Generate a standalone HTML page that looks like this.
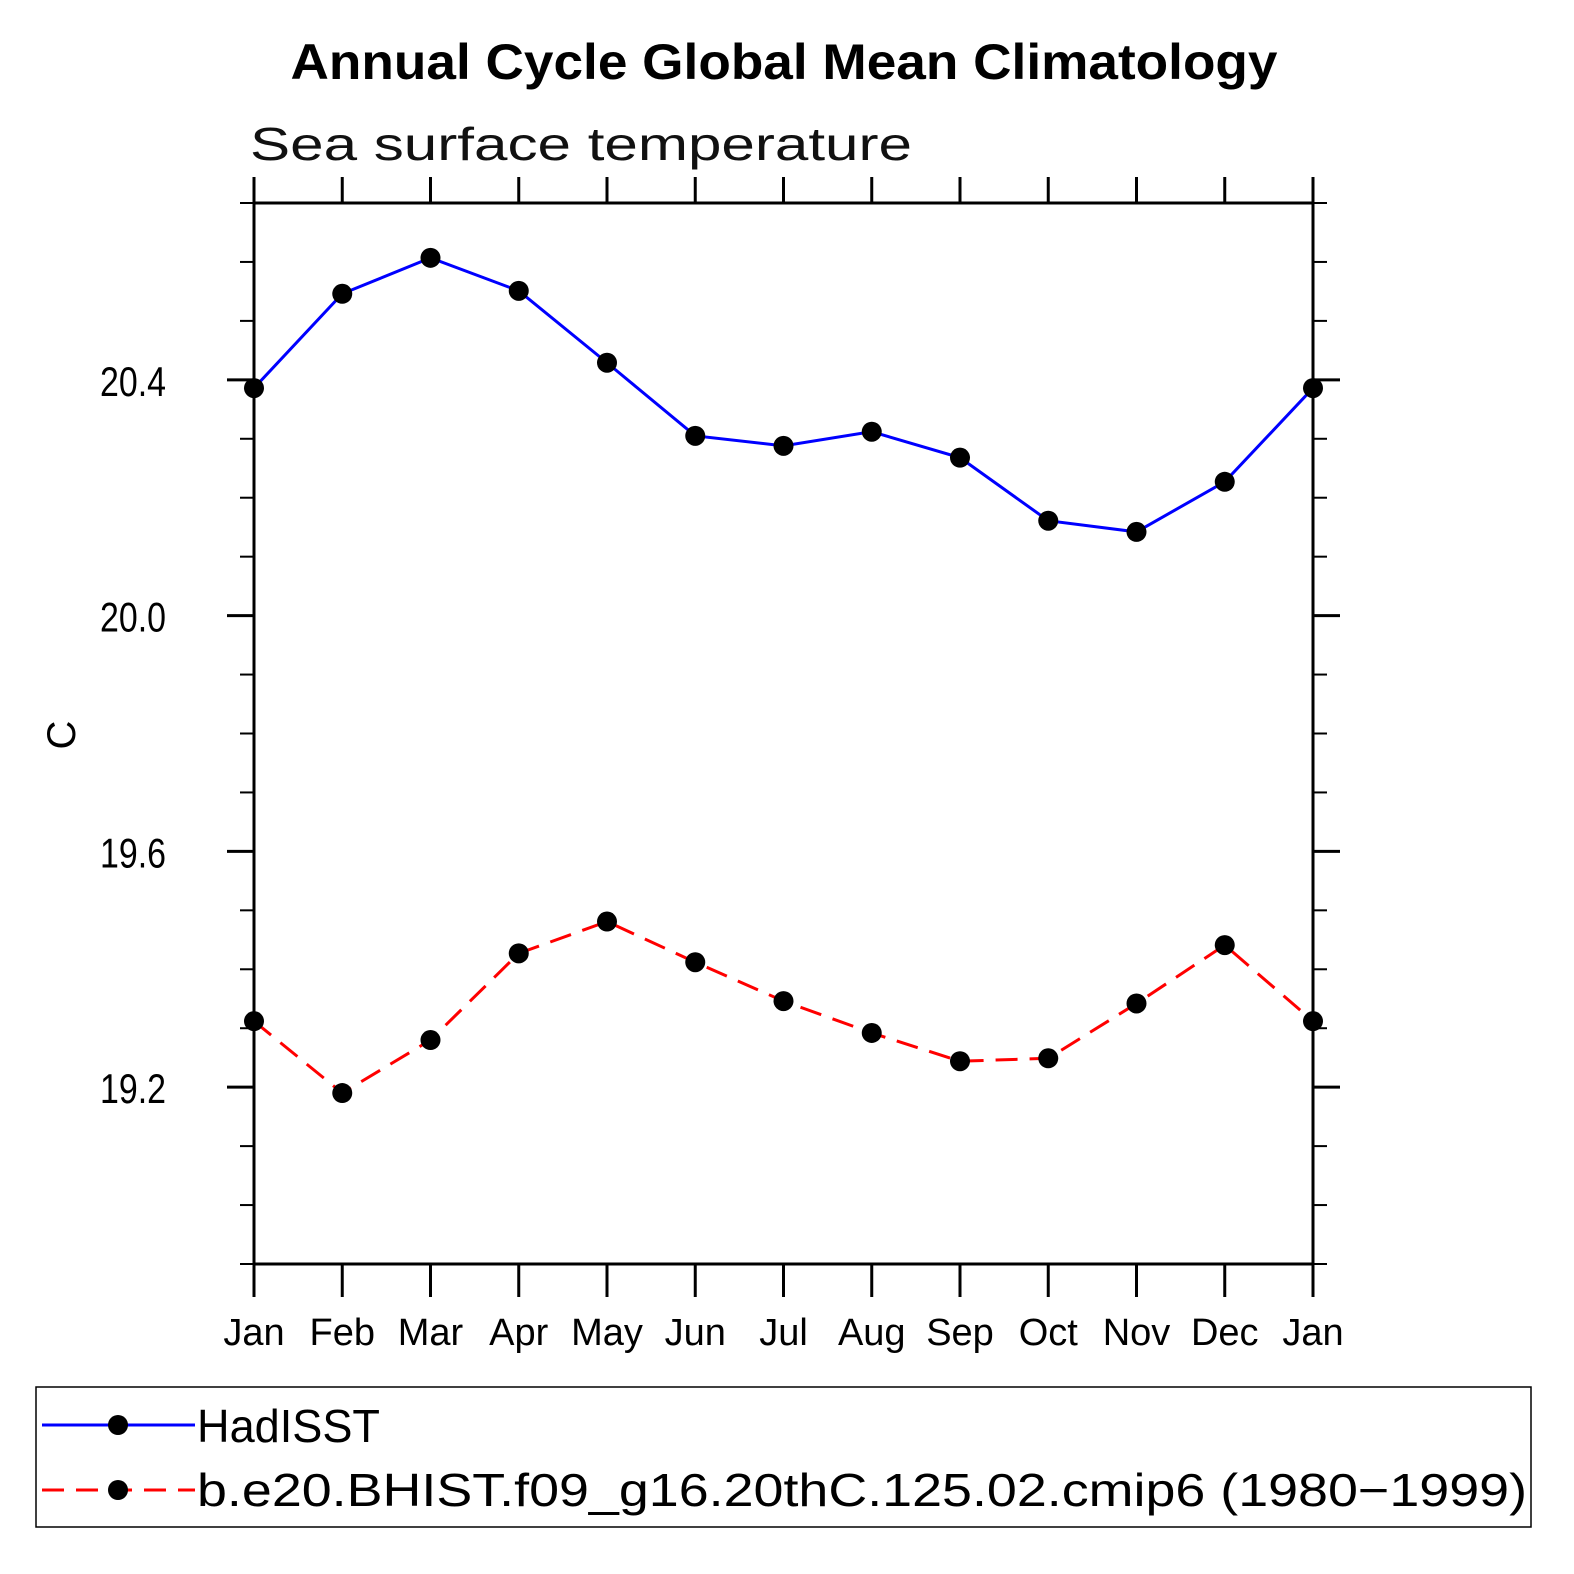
<!DOCTYPE html>
<html><head><meta charset="utf-8"><style>body{margin:0;background:#fff}svg{display:block}text{font-family:"Liberation Sans",sans-serif}</style></head>
<body>
<svg id="chart" width="1574" height="1574" xmlns="http://www.w3.org/2000/svg">
<text x="784" y="79" text-anchor="middle" font-size="50" font-weight="bold" textLength="987" lengthAdjust="spacingAndGlyphs">Annual Cycle Global Mean Climatology</text>
<text x="250" y="160" font-size="46" textLength="662" lengthAdjust="spacingAndGlyphs" fill="#111">Sea surface temperature</text>
<text transform="translate(75,735) rotate(-90)" text-anchor="middle" font-size="40">C</text>
<g id="axes"></g>
<g id="series"></g>
<rect x="36" y="1387" width="1495" height="140" fill="none" stroke="#000" stroke-width="1.5"/>
<g>
<line x1="42" y1="1425" x2="195" y2="1425" stroke="#0000ff" stroke-width="3"/>
<circle cx="118" cy="1425" r="10"/>
<text x="197" y="1442" font-size="46" textLength="183" lengthAdjust="spacingAndGlyphs">HadISST</text>
</g>
<g>
<line x1="42" y1="1490" x2="195" y2="1490" stroke="#ff0000" stroke-width="3" stroke-dasharray="22,12"/>
<circle cx="118" cy="1490" r="10"/>
<text x="197" y="1506" font-size="46" textLength="1330" lengthAdjust="spacingAndGlyphs">b.e20.BHIST.f09_g16.20thC.125.02.cmip6 (1980−1999)</text>
</g>
</svg>
<script>
const months = ["Jan","Feb","Mar","Apr","May","Jun","Jul","Aug","Sep","Oct","Nov","Dec","Jan"];
const hadisst = [20.386,20.546,20.607,20.551,20.429,20.305,20.288,20.312,20.268,20.161,20.142,20.227,20.386];
const model = [19.312,19.190,19.280,19.427,19.481,19.412,19.346,19.292,19.244,19.249,19.342,19.441,19.312];
const yTicks = [19.2,19.6,20.0,20.4];
const yTickLabels = ["19.2","19.6","20.0","20.4"];
const yMin = 18.9, yMax = 20.7;
const L=254,R=1313,T=203,B=1264;
const NS="http://www.w3.org/2000/svg";
function xs(i){return L+(R-L)*i/(months.length-1);}
function ys(v){return B-(v-yMin)/(yMax-yMin)*(B-T);}
function mk(tag,attrs,parent){const e=document.createElementNS(NS,tag);for(const k in attrs)e.setAttribute(k,attrs[k]);parent.appendChild(e);return e;}
const ax=document.getElementById('axes');
const frame=mk('rect',{x:L,y:T,width:R-L,height:B-T,fill:'none',stroke:'#000','stroke-width':3},ax);


months.forEach((m,i)=>{
  const x=xs(i);
  const t1=mk('line',{x1:x,y1:T-26,x2:x,y2:T,stroke:'#000','stroke-width':3},ax);
  
  
  const t2=mk('line',{x1:x,y1:B,x2:x,y2:B+33,stroke:'#000','stroke-width':3},ax);
  
  
  const tx=mk('text',{x:x,y:1345,'text-anchor':'middle','font-size':38},ax);
  tx.textContent=m;
  
  
});
for(let k=0;k<=18;k++){
  const v=yMin+k*0.1, y=ys(v);
  const major=yTicks.some(t=>Math.abs(t-v)<1e-6);
  const len=major?27:14;
  const a=mk('line',{x1:L-len,y1:y,x2:L,y2:y,stroke:'#000','stroke-width':major?3:2},ax);
  
  
  const b=mk('line',{x1:R,y1:y,x2:R+len,y2:y,stroke:'#000','stroke-width':major?3:2},ax);
  
  
}
yTicks.forEach((t,i)=>{
  const tx=mk('text',{x:100,y:ys(t)+16,'font-size':42,textLength:66,lengthAdjust:'spacingAndGlyphs'},ax);
  tx.textContent=yTickLabels[i];
  
  
});
const sg=document.getElementById('series');
function drawSeries(vals,color,dash,name){
  const pts=vals.map((v,i)=>xs(i)+','+ys(v)).join(' ');
  const pl=mk('polyline',{points:pts,fill:'none',stroke:color,'stroke-width':3},sg);
  if(dash)pl.setAttribute('stroke-dasharray',dash);
  
  
  vals.forEach((v,i)=>{
    const c=mk('circle',{cx:xs(i),cy:ys(v),r:10,fill:'#000'},sg);
    
    
  });
}
drawSeries(hadisst,'#0000ff',null,'hadisst');
drawSeries(model,'#ff0000','22,12','model');
</script>
</body></html>
